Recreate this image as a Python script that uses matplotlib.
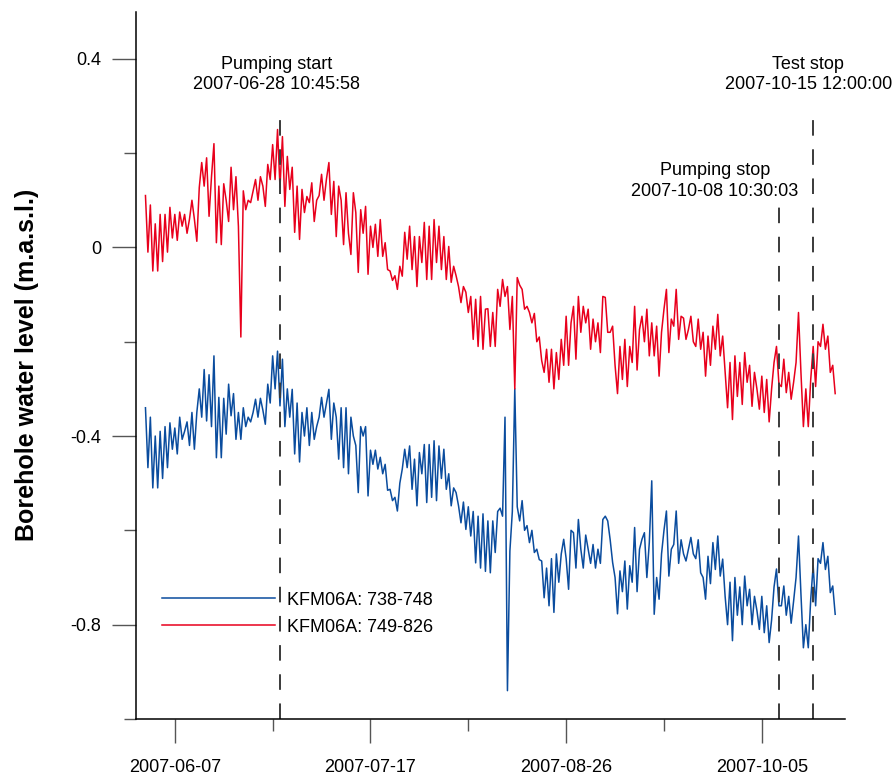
import pandas as pd
import matplotlib
matplotlib.use('Agg')
import matplotlib.pyplot as plt
import matplotlib.dates as mdates
from matplotlib.ticker import MultipleLocator

plt.rcParams['font.family'] = ['Liberation Sans', 'DejaVu Sans']

# Borehole water level (m.a.s.l.), 12-hourly readings from 2007-06-01 00:00
series_start = '2007-06-01 00:00'

level_749_826 = [
    0.11, -0.01, 0.09, -0.05, 0.05, -0.05, 0.07, -0.03, 0.07, -0.01,
    0.085, 0.02, 0.07, 0.015, 0.075, 0.045, 0.07, 0.03, 0.06, 0.10,
    0.06, 0.013, 0.127, 0.18, 0.13, 0.19, 0.066, 0.15, 0.22, 0.01,
    0.13, 0.006, 0.135, 0.10, 0.055, 0.17, 0.08, 0.15, 0.045, -0.19,
    0.12, 0.08, 0.10, 0.095, 0.12, 0.144, 0.10, 0.15, 0.13, 0.087,
    0.176, 0.144, 0.218, 0.144, 0.25, 0.127, 0.235, 0.087, 0.193, 0.123,
    0.17, 0.032, 0.13, 0.017, 0.123, 0.074, 0.108, 0.095, 0.137, 0.055,
    0.10, 0.11, 0.155, 0.10, 0.145, 0.18, 0.07, 0.14, 0.023, 0.13,
    0.10, 0.006, 0.116, 0.03, -0.015, 0.116, 0.074, -0.053, 0.08, 0.03,
    0.087, -0.057, 0.045, 0.0, 0.049, -0.019, 0.059, -0.019, 0.01, -0.047,
    -0.05, -0.07, -0.06, -0.089, -0.04, -0.061, 0.032, -0.025, 0.045, -0.047,
    0.023, -0.083, 0.023, -0.032, 0.053, -0.068, 0.045, -0.068, 0.059, -0.032,
    0.045, -0.047, 0.023, -0.068, 0.002, -0.074, -0.04, -0.06, -0.083, -0.117,
    -0.083, -0.095, -0.138, -0.104, -0.195, -0.11, -0.21, -0.104, -0.216, -0.131,
    -0.13, -0.21, -0.138, -0.21, -0.089, -0.125, -0.068, -0.104, -0.083, -0.174,
    -0.104, -0.30, -0.064, -0.08, -0.089, -0.131, -0.125, -0.138, -0.16, -0.14,
    -0.20, -0.19, -0.24, -0.265, -0.216, -0.286, -0.216, -0.30, -0.223, -0.28,
    -0.195, -0.25, -0.146, -0.25, -0.16, -0.125, -0.237, -0.104, -0.18, -0.125,
    -0.16, -0.131, -0.216, -0.152, -0.20, -0.16, -0.223, -0.104, -0.106, -0.18,
    -0.18, -0.167, -0.25, -0.31, -0.21, -0.28, -0.195, -0.295, -0.21, -0.244,
    -0.125, -0.26, -0.174, -0.146, -0.20, -0.131, -0.23, -0.16, -0.23, -0.167,
    -0.273, -0.18, -0.131, -0.089, -0.223, -0.152, -0.167, -0.089, -0.195, -0.146,
    -0.15, -0.195, -0.174, -0.146, -0.20, -0.21, -0.152, -0.216, -0.18, -0.273,
    -0.188, -0.25, -0.167, -0.216, -0.142, -0.23, -0.188, -0.265, -0.34, -0.244,
    -0.365, -0.23, -0.316, -0.244, -0.333, -0.223, -0.286, -0.25, -0.337, -0.265,
    -0.30, -0.343, -0.273, -0.35, -0.28, -0.37, -0.30, -0.244, -0.21, -0.29,
    -0.295, -0.237, -0.308, -0.265, -0.322, -0.286, -0.244, -0.138, -0.265, -0.38,
    -0.30, -0.38, -0.28, -0.21, -0.295, -0.20, -0.21, -0.163, -0.216, -0.188,
    -0.265, -0.25, -0.31,
]

level_738_748 = [
    -0.34, -0.467, -0.36, -0.51, -0.40, -0.51, -0.39, -0.49, -0.38, -0.467,
    -0.372, -0.428, -0.383, -0.438, -0.36, -0.407, -0.39, -0.37, -0.42, -0.35,
    -0.428, -0.35, -0.30, -0.36, -0.259, -0.368, -0.27, -0.38, -0.23, -0.446,
    -0.318, -0.446, -0.32, -0.396, -0.29, -0.357, -0.31, -0.407, -0.35, -0.407,
    -0.34, -0.38, -0.36, -0.37, -0.35, -0.322, -0.36, -0.32, -0.345, -0.375,
    -0.29, -0.33, -0.23, -0.30, -0.22, -0.336, -0.237, -0.38, -0.30, -0.36,
    -0.301, -0.438, -0.33, -0.455, -0.35, -0.40, -0.34, -0.42, -0.35, -0.407,
    -0.38, -0.36, -0.318, -0.36, -0.33, -0.301, -0.407, -0.33, -0.36, -0.449,
    -0.34, -0.467, -0.34, -0.48, -0.36, -0.40, -0.42, -0.52, -0.38, -0.40,
    -0.38, -0.527, -0.43, -0.46, -0.43, -0.47, -0.445, -0.48, -0.46, -0.515,
    -0.513, -0.537, -0.53, -0.559, -0.50, -0.47, -0.428, -0.467, -0.421, -0.513,
    -0.449, -0.548, -0.435, -0.48, -0.418, -0.541, -0.418, -0.53, -0.41, -0.537,
    -0.421, -0.49, -0.428, -0.513, -0.48, -0.548, -0.51, -0.52, -0.548, -0.584,
    -0.54, -0.598, -0.55, -0.612, -0.56, -0.669, -0.57, -0.68, -0.565, -0.687,
    -0.58, -0.69, -0.58, -0.647, -0.56, -0.553, -0.57, -0.36, -0.94, -0.644,
    -0.56, -0.30, -0.55, -0.58, -0.537, -0.60, -0.59, -0.626, -0.60, -0.647,
    -0.64, -0.662, -0.665, -0.743, -0.68, -0.76, -0.66, -0.774, -0.65, -0.71,
    -0.65, -0.619, -0.66, -0.725, -0.60, -0.605, -0.68, -0.577, -0.64, -0.68,
    -0.61, -0.64, -0.67, -0.63, -0.68, -0.64, -0.67, -0.577, -0.57, -0.58,
    -0.62, -0.668, -0.70, -0.777, -0.686, -0.73, -0.665, -0.767, -0.675, -0.71,
    -0.594, -0.73, -0.64, -0.619, -0.605, -0.70, -0.626, -0.495, -0.778, -0.70,
    -0.746, -0.65, -0.60, -0.559, -0.697, -0.64, -0.63, -0.559, -0.67, -0.62,
    -0.65, -0.665, -0.64, -0.615, -0.65, -0.66, -0.62, -0.69, -0.70, -0.746,
    -0.655, -0.713, -0.626, -0.683, -0.612, -0.697, -0.661, -0.74, -0.80, -0.71,
    -0.834, -0.70, -0.78, -0.72, -0.80, -0.697, -0.76, -0.725, -0.80, -0.74,
    -0.77, -0.81, -0.74, -0.817, -0.76, -0.838, -0.79, -0.72, -0.682, -0.76,
    -0.76, -0.718, -0.78, -0.74, -0.797, -0.75, -0.70, -0.612, -0.735, -0.849,
    -0.80, -0.849, -0.746, -0.675, -0.76, -0.66, -0.67, -0.626, -0.683, -0.655,
    -0.732, -0.718, -0.778,
]

series_labels = ['KFM06A: 738-748', 'KFM06A: 749-826']

# test events
event_names = ['Pumping start', 'Pumping stop', 'Test stop']
event_times = ['2007-06-28 10:45:58', '2007-10-08 10:30:03', '2007-10-15 12:00:00']

major_ticks = ['2007-06-07', '2007-07-17', '2007-08-26', '2007-10-05']
minor_ticks = ['2007-06-27', '2007-08-06', '2007-09-15']


def main():
    times = pd.date_range(series_start, periods=len(level_749_826), freq='12h')

    fig = plt.figure(figsize=(8.95, 7.76), dpi=100)
    ax = fig.add_axes([0.1516, 0.0735, 0.7925, 0.9115])

    ax.plot(times, level_738_748, color='#0a4c9e', lw=1.1, label=series_labels[0])
    ax.plot(times, level_749_826, color='#e8001c', lw=1.1, label=series_labels[1])

    # dashed event lines with their captions
    line_tops = [0.276, 0.091, 0.276]
    text_y = [0.366, 0.141, 0.366]
    text_shift = [-0.6, -13.0, -1.0]   # days, caption placement
    for name, t, top, ty, dx in zip(event_names, event_times, line_tops, text_y, text_shift):
        ts = pd.Timestamp(t)
        ax.vlines(ts, -1.0, top, colors='#3a3a3a', linestyles=(0, (8, 7)), lw=1.4)
        ax.text(ts + pd.Timedelta(days=dx), ty, f'{name}\n{t}', ha='center', va='center',
                fontsize=13, linespacing=1.25)

    ax.set_xlim(pd.Timestamp('2007-05-30'), pd.Timestamp('2007-10-22'))
    ax.set_ylim(-1.0, 0.5)

    ax.set_xticks(pd.to_datetime(major_ticks))
    ax.set_xticks(pd.to_datetime(minor_ticks), minor=True)
    ax.xaxis.set_major_formatter(mdates.DateFormatter('%Y-%m-%d'))
    ax.yaxis.set_major_locator(MultipleLocator(0.4))
    ax.yaxis.set_minor_locator(MultipleLocator(0.2))
    ax.yaxis.set_major_formatter(lambda v, p: '0' if abs(v) < 1e-9 else f'{v:.1f}')

    for s in ['top', 'right']:
        ax.spines[s].set_visible(False)
    for s in ['left', 'bottom']:
        ax.spines[s].set_linewidth(1.1)

    ax.tick_params(which='major', length=17, width=1.0, color='#555555', labelsize=13)
    ax.tick_params(which='minor', length=8.5, width=1.0, color='#555555')
    ax.tick_params(axis='x', which='major', pad=12)
    ax.tick_params(axis='y', which='major', pad=8)

    ax.set_ylabel('Borehole water level (m.a.s.l.)', fontsize=18, fontweight='bold')
    ax.yaxis.set_label_coords(-0.137, 0.5)

    ax.legend(loc='upper left', bbox_to_anchor=(0.0367, 0.180), frameon=False,
              fontsize=13, handlelength=6.3, handletextpad=0.65, labelspacing=0.56,
              borderpad=0, borderaxespad=0)

    plt.savefig('out.png', dpi=100)


if __name__ == '__main__':
    main()
